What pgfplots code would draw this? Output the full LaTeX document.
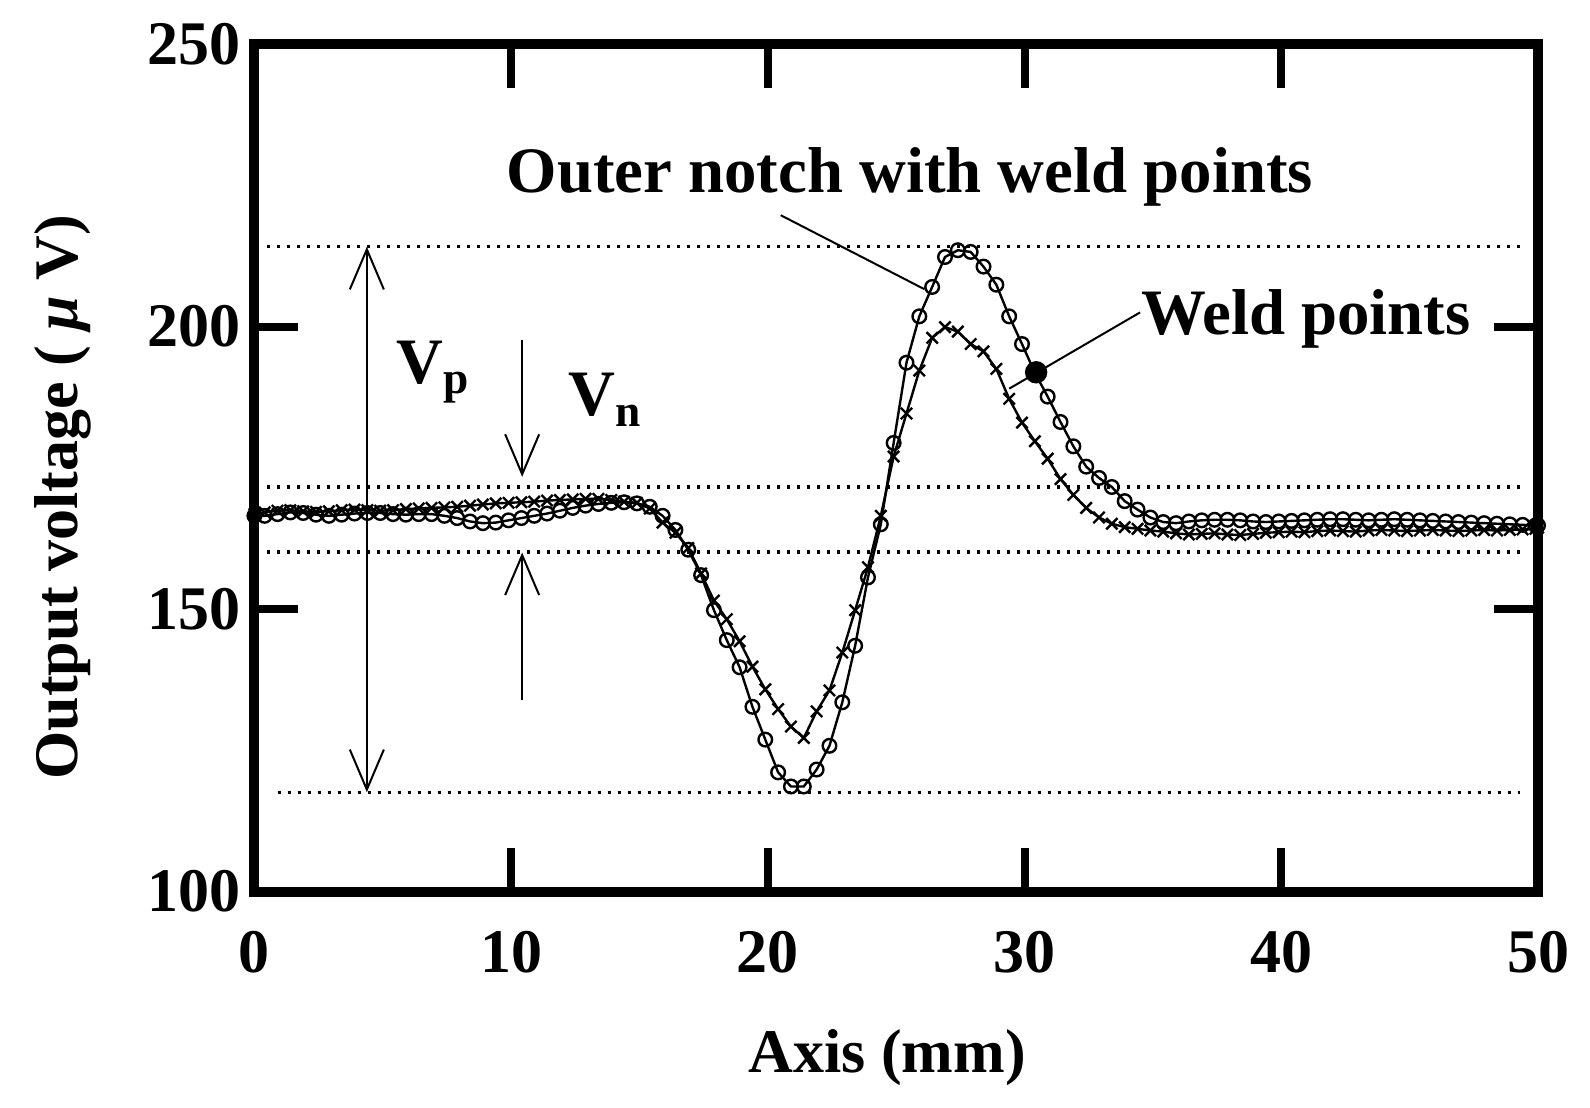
\documentclass[border=0pt]{standalone}
\usepackage{pgfplots}
\pgfplotsset{compat=1.18}
\usepackage{pgfplotstable}
\usepackage{fontspec}
\setmainfont{Liberation Serif}
\usetikzlibrary{arrows.meta}

\newcommand\lab{\fontsize{15.5}{18}\selectfont\bfseries}
\newcommand\ann{\fontsize{16.2}{19}\selectfont\bfseries}

% x, outer notch with weld points (o), weld points (x)
\pgfplotstableread{
x a b
0 166.5 166.8
0.4 166.5 167.1
0.9 166.8 167.4
1.4 167.1 167.5
1.9 167.0 167.3
2.4 166.7 167.2
2.9 166.5 167.3
3.4 166.7 167.5
3.9 166.9 167.6
4.4 167.0 167.5
4.9 167.0 167.4
5.4 166.8 167.5
5.9 166.7 167.7
6.4 166.8 167.8
6.9 166.8 167.9
7.4 166.5 168.0
7.9 166.1 168.1
8.4 165.5 168.3
8.9 165.2 168.5
9.4 165.3 168.7
9.9 165.7 168.8
10.4 166.1 168.9
10.9 166.5 169.0
11.4 166.9 169.2
11.9 167.4 169.3
12.4 167.9 169.4
12.9 168.3 169.5
13.4 168.6 169.5
13.9 168.8 169.3
14.4 168.9 169.0
14.9 168.7 168.8
15.4 168.1 167.8
15.9 166.5 165.3
16.4 164.0 163.5
16.9 160.5 160.8
17.4 156.0 156.3
17.9 149.8 151.5
18.4 144.5 148.2
18.9 139.7 144.3
19.4 132.7 139.8
19.9 126.9 135.8
20.4 121.1 132.3
20.9 118.6 129.2
21.4 118.6 127.2
21.9 121.6 131.9
22.4 125.8 135.6
22.9 133.5 142.3
23.4 143.5 149.8
23.9 155.6 157.4
24.4 165.0 166.5
24.9 179.4 177.0
25.4 193.6 184.6
25.9 201.8 192.2
26.4 207.0 198.0
26.9 212.3 199.9
27.4 213.5 199.1
27.9 213.2 196.9
28.4 210.6 195.6
28.9 207.4 192.5
29.4 201.8 187.2
29.9 196.9 183.0
30.4 191.8 179.7
30.9 187.6 176.6
31.4 183.1 173.0
31.9 178.8 170.2
32.4 175.2 167.9
32.9 173.2 166.2
33.4 171.6 165.1
33.9 169.1 164.5
34.4 167.6 164.2
34.9 166.2 163.9
35.4 165.4 163.7
35.9 165.2 163.4
36.4 165.5 163.2
36.9 165.7 163.3
37.4 165.8 163.4
37.9 165.8 163.2
38.4 165.7 163.1
38.9 165.5 163.3
39.4 165.4 163.5
39.9 165.5 163.6
40.4 165.6 163.7
40.9 165.7 163.6
41.4 165.8 163.8
41.9 165.9 163.9
42.4 165.9 163.8
42.9 165.8 163.7
43.4 165.7 163.9
43.9 165.8 164.0
44.4 165.9 163.9
44.9 165.8 163.8
45.4 165.7 163.9
45.9 165.6 164.0
46.4 165.5 163.9
46.9 165.4 163.8
47.4 165.3 163.9
47.9 165.2 164.0
48.4 165.1 163.9
48.9 165.0 164.0
49.4 164.9 164.1
49.9 164.8 164.2
50.0 164.8 164.4
}\profile

\begin{document}
\begin{tikzpicture}
\begin{axis}[
  name=ax,
  scale only axis,
  width=320.9pt, height=211.9pt,
  xmin=0, xmax=50, ymin=100, ymax=250,
  xtick={0,10,...,50}, ytick={100,150,200,250},
  tick align=inside,
  major tick length=11pt,
  every tick/.style={black, line width=2pt},
  axis line style={line width=2.5pt},
  /pgf/number format/assume math mode=true,
  tick label style={font=\lab},
  xticklabel style={yshift=-6.5pt},
  clip=false,
]
% reference levels
\addplot[black, line width=0.8pt, dash pattern=on 0.8pt off 1.7pt] coordinates {(0.5,214.1) (49.3,214.1)};
\addplot[black, line width=0.8pt, dash pattern=on 0.8pt off 1.7pt] coordinates {(0.5,171.6) (49.3,171.6)};
\addplot[black, line width=0.8pt, dash pattern=on 0.8pt off 1.7pt] coordinates {(0.5,160.1) (49.3,160.1)};
\addplot[black, line width=0.8pt, dash pattern=on 0.8pt off 1.7pt] coordinates {(0.9,117.6) (49.3,117.6)};

\addplot[black, line width=0.6pt, mark=x, mark size=2pt,
  mark options={line width=0.6pt}] table[x=x, y=b] {\profile};
\addplot[black, line width=0.6pt, mark=o, mark size=1.7pt,
  mark options={line width=0.6pt}] table[x=x, y=a] {\profile};

% annotations
\draw[{Straight Barb[length=10pt,width=8.5pt]}-{Straight Barb[length=10pt,width=8.5pt]}, line width=0.5pt]
  (axis cs:4.38,214.1) -- (axis cs:4.38,117.6);
\draw[-{Straight Barb[length=10pt,width=8.5pt]}, line width=0.5pt]
  (axis cs:10.43,197.6) -- (axis cs:10.43,173.4);
\draw[-{Straight Barb[length=10pt,width=8.5pt]}, line width=0.5pt]
  (axis cs:10.43,133.9) -- (axis cs:10.43,160.0);
\node[anchor=base west, inner sep=0pt, font=\ann] at (axis cs:5.5,190.0) {V\textsubscript{p}};
\node[anchor=base west, inner sep=0pt, font=\ann] at (axis cs:12.2,184.2) {V\textsubscript{n}};

\draw[line width=0.5pt] (axis cs:20.5,219.7) -- (axis cs:26.1,206.6);
\node[anchor=base, inner sep=0pt, font=\ann] at (axis cs:25.53,223.7) {Outer notch with weld points};
\draw[line width=0.5pt] (axis cs:34.5,202.5) -- (axis cs:29.4,189.0);
\addplot[only marks, mark=*, mark size=2.6pt, black] coordinates {(30.45,191.9)};
\node[anchor=base, inner sep=0pt, font=\ann] at (axis cs:40.96,198.6) {Weld points};

% axis titles
\path (axis cs:0,169.8) ++(-47.9pt,0pt) node[font=\lab, rotate=90] {Output voltage ( {\itshape μ} V)};
\path (axis cs:24.65,100) ++(0pt,-41.6pt) node[font=\lab] {Axis (mm)};

\path (rel axis cs:0,0) ++(-63.6pt,-54.1pt) coordinate (BL);
\path (rel axis cs:1,1) ++(13pt,11pt) coordinate (TR);
\end{axis}
\pgfresetboundingbox
\path (BL) rectangle (TR);
\end{tikzpicture}
\end{document}
